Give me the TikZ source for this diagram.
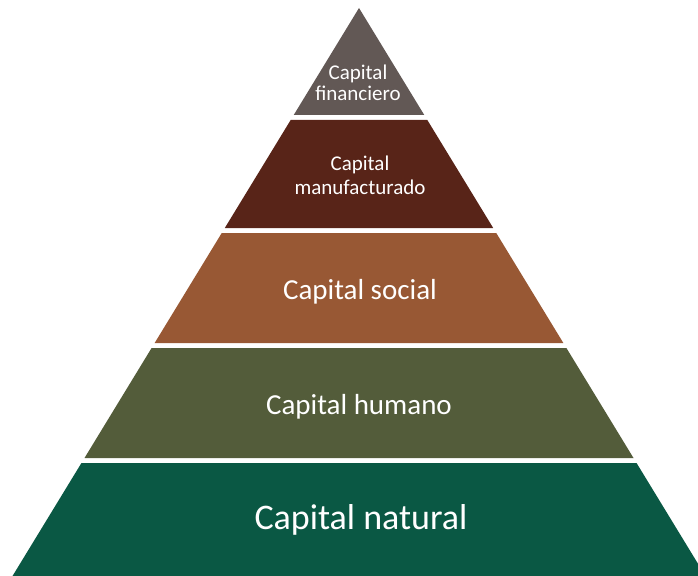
\documentclass[tikz,border=0pt]{standalone}
\usepackage{fontspec}
\setmainfont{Carlito}
\definecolor{cfin}{RGB}{98,88,85}
\definecolor{cman}{RGB}{88,36,24}
\definecolor{csoc}{RGB}{152,88,52}
\definecolor{chum}{RGB}{83,92,58}
\definecolor{cnat}{RGB}{10,88,68}
\newcommand{\pyrband}[3]{%
  \fill[#3] ({359-0.61*(#1-8)},#1) -- ({359+0.61*(#1-8)},#1) --
    ({359+0.61*(#2-8)},#2) -- ({359-0.61*(#2-8)},#2) -- cycle;}
\tikzset{lbl/.style={text=white, align=center, inner sep=0pt}}
\begin{document}
\begin{tikzpicture}[x=1pt,y=-1pt]
\useasboundingbox (0,0) rectangle (698,575);
\fill[white] (0,0) rectangle (698,575);
\begin{scope}
\clip (0,0) rectangle (698,575);
\pyrband{8}{115}{cfin}
\pyrband{120}{228}{cman}
\pyrband{233}{343}{csoc}
\pyrband{348}{458}{chum}
\pyrband{463}{590}{cnat}
\end{scope}
\node[lbl, font=\fontsize{21}{21}\selectfont] (fin) at (358,83) {Capital\\financiero};
\node[lbl, font=\fontsize{21}{24}\selectfont] (man) at (360,175) {Capital\\manufacturado};
\node[lbl, font=\fontsize{29}{30}\selectfont] (soc) at (360,292) {Capital social};
\node[lbl, font=\fontsize{29}{30}\selectfont] (hum) at (359,407) {Capital humano};
\node[lbl, font=\fontsize{36}{38}\selectfont] (nat) at (361,520) {Capital natural};
\end{tikzpicture}
\end{document}
